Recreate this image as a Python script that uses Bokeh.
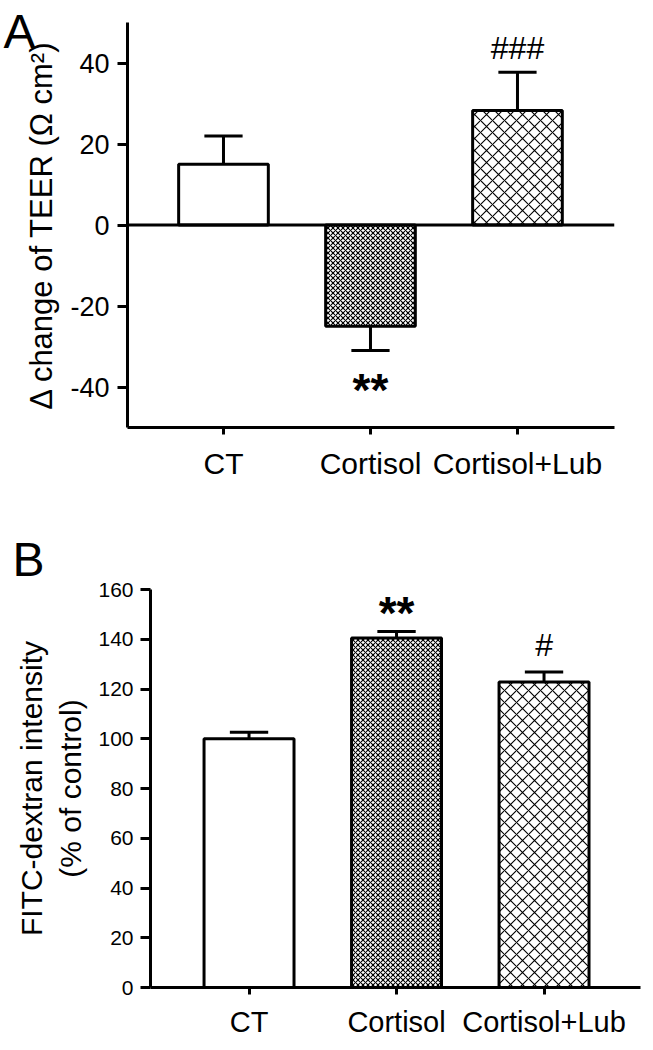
import numpy as np
from bokeh.plotting import figure
from bokeh.models import FixedTicker, Range1d, Span, Title, LinearAxis
from bokeh.layouts import column
from bokeh.embed import file_html
from bokeh.resources import INLINE
from bokeh.core.properties import value

# ---------------- data ----------------
categories = ["CT", "Cortisol", "Cortisol+Lub"]

teer_mean = [15.0, -25.0, 28.3]
teer_sem = [7.0, 6.0, 9.4]
teer_marks = ["", "**", "###"]
teer_ticks = [-40, -20, 0, 20, 40]

fitc_mean = [100.0, 140.5, 122.8]
fitc_sem = [2.6, 2.6, 4.0]
fitc_marks = ["", "**", "#"]
fitc_ticks = [0, 20, 40, 60, 80, 100, 120, 140, 160]

hatch_patterns = [" ", "x", "x"]
hatch_scales = [12, 5, 12]

FONT = "Liberation Sans"


def style_axes(p, ticks, ytick_px, xtick_px, ylabel_px, ystandoff, xstandoff, lstandoff):
    p.grid.visible = False
    p.outline_line_color = None
    for ax in (p.xaxis[0], p.yaxis[0]):
        ax.axis_line_width = 3
        ax.axis_line_color = "black"
        ax.major_tick_line_width = 3
        ax.major_tick_line_color = "black"
        ax.major_tick_in = 0
        ax.minor_tick_line_color = None
        ax.major_label_text_color = "black"
        ax.major_label_text_font = FONT
        ax.axis_label_text_font = FONT
        ax.axis_label_text_color = "black"
        ax.axis_label_text_font_style = "normal"
    p.yaxis[0].major_tick_out = 10
    p.xaxis[0].major_tick_out = 7
    p.yaxis[0].major_label_text_font_size = ytick_px
    p.xaxis[0].major_label_text_font_size = xtick_px
    p.yaxis[0].axis_label_text_font_size = ylabel_px
    p.yaxis[0].major_label_standoff = ystandoff
    p.xaxis[0].major_label_standoff = xstandoff
    p.yaxis[0].axis_label_standoff = lstandoff
    p.yaxis[0].ticker = FixedTicker(ticks=ticks)
    p.yaxis[0].major_label_overrides = {t: str(t) for t in ticks}
    pos = list(range(1, len(categories) + 1))
    p.xaxis[0].ticker = FixedTicker(ticks=pos)
    p.xaxis[0].major_label_overrides = {k: c for k, c in zip(pos, categories)}


def draw_bars(p, means, sems, marks, hash_gap, star_gap):
    x = np.arange(1, len(categories) + 1, dtype=float)
    m = np.array(means)
    s = np.array(sems)
    d = np.sign(m)
    tip = m + d * s
    p.vbar(x=x, bottom=0, top=m, width=0.61, fill_color="white",
           line_color="black", line_width=3,
           hatch_pattern=hatch_patterns, hatch_scale=hatch_scales,
           hatch_color="black", hatch_weight=1.1)
    p.segment(x0=x, y0=m, x1=x, y1=tip, line_color="black", line_width=3)
    p.segment(x0=x - 0.13, y0=tip, x1=x + 0.13, y1=tip,
              line_color="black", line_width=3)
    for i, mk in enumerate(marks):
        if not mk:
            continue
        if "*" in mk:
            off = -d[i] * star_gap + 6
            p.text(x=[x[i]], y=[tip[i]], text=[mk], text_font=value(FONT),
                   text_font_size="46px", text_font_style="bold",
                   text_align="center", text_baseline="alphabetic",
                   y_offset=off, text_color="black")
        else:
            off = -d[i] * hash_gap
            p.text(x=[x[i]], y=[tip[i]], text=[mk], text_font=value(FONT),
                   text_font_size="32px",
                   text_align="center", text_baseline="alphabetic",
                   y_offset=off, text_color="black")


# ---------------- panel A ----------------
pa = figure(width=645, height=522, output_backend="svg", toolbar_location=None,
            x_range=Range1d(0.347, 3.66), y_range=Range1d(-50, 50),
            min_border_left=127, min_border_right=31,
            min_border_top=22, min_border_bottom=95, frame_align=False)
style_axes(pa, teer_ticks, "27px", "30px", "31px", 8, 12, 8)
pa.yaxis[0].axis_label = "\u0394 change of TEER (\u03a9 cm\u00b2)"
# panel letter as the label of a bare outer axis (stays outside the frame)
pa.extra_y_ranges = {"letter": Range1d(0, 1000)}
pa.add_layout(LinearAxis(y_range_name="letter", ticker=FixedTicker(ticks=[999]),
                         major_label_overrides={999: "A"},
                         axis_line_color=None, major_tick_line_color=None,
                         minor_tick_line_color=None, major_tick_out=0,
                         major_tick_in=0, major_label_standoff=-14,
                         major_label_text_font=FONT,
                         major_label_text_font_size="48px",
                         major_label_text_color="black"), "left")
pa.add_layout(Span(location=0, dimension="width", line_color="black", line_width=3))
draw_bars(pa, teer_mean, teer_sem, teer_marks, 24, 33)

# ---------------- panel B ----------------
pb = figure(width=645, height=518, output_backend="svg", toolbar_location=None,
            x_range=Range1d(0.332, 3.654), y_range=Range1d(0, 160),
            min_border_left=150, min_border_right=5,
            min_border_top=67, min_border_bottom=48, frame_align=False)
pb.add_layout(Title(text="B", align="left", offset=-138, standoff=8,
                    vertical_align="bottom", text_font=FONT,
                    text_font_size="48px", text_font_style="normal",
                    text_color="black"), "above")
style_axes(pb, fitc_ticks, "21px", "29px", "30px", 7, 11, 8)
pb.yaxis[0].axis_label = "FITC-dextran intensity\n(% of control)"
draw_bars(pb, fitc_mean, fitc_sem, fitc_marks, 27, 24.5)

layout = column(pa, pb)
open("out.html", "w").write(file_html(layout, INLINE))
